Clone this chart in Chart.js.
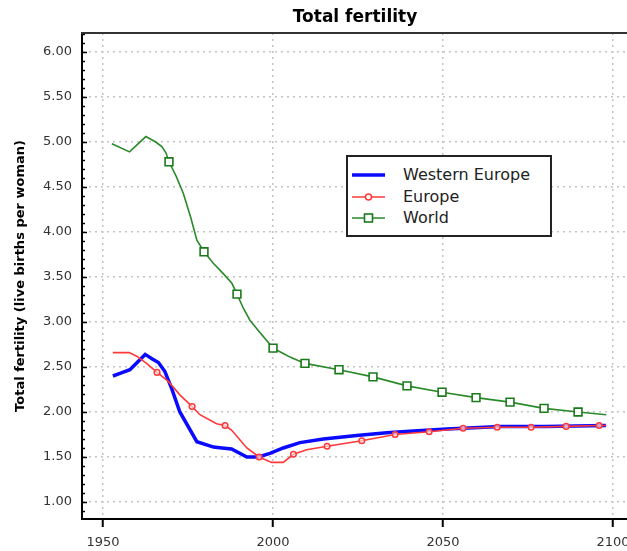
<!DOCTYPE html>
<html><head><meta charset="utf-8">
<script src="https://cdn.jsdelivr.net/npm/chart.js@4/dist/chart.umd.min.js"></script>
<style>
html,body{margin:0;padding:0;background:#fff;overflow:hidden;}
#wrap{position:relative;width:627px;height:551px;overflow:hidden;}
#c{position:absolute;left:0;top:0;}
#legend{position:absolute;left:346px;top:155px;width:202px;height:78px;border:2px solid #222;background:#fff;font-family:'DejaVu Sans',sans-serif;font-size:16px;color:#222;}
.item{position:absolute;left:0;width:202px;height:20px;line-height:20px;white-space:nowrap;}
.item svg{position:absolute;left:0;top:0;}
.item span{position:absolute;left:55px;top:0;}
</style></head>
<body>
<div id="wrap">
<canvas id="c" width="710" height="551"></canvas>
<div id="legend"></div>
</div>
<script>
// ---- data ----
const chartTitle = 'Total fertility';
const yAxisTitle = 'Total fertility (live births per woman)';
const seriesNames = ['Western Europe', 'Europe', 'World'];

const westernEuropeYears  = [1952.9,1955,1957.9,1962.4,1964.5,1966.3,1968.2,1970.2,1972.6,1977.6,1982.5,1985,1987.8,1992.3,1995.7,1999.1,2003,2007.9,2014.8,2024.6,2033.4,2041.3,2051.1,2066.8,2080,2097.9];
const westernEuropeValues = [2.40,2.43,2.47,2.64,2.59,2.55,2.45,2.26,2.00,1.67,1.61,1.60,1.59,1.50,1.50,1.54,1.60,1.66,1.70,1.74,1.77,1.79,1.81,1.84,1.84,1.85];

const europeYears  = [1952.9,1957.7,1959.9,1962.8,1965.9,1969.2,1972.6,1976.2,1978.5,1983.4,1985.9,1987.8,1992.3,1995.9,1999.6,2003,2006,2009.9,2015.9,2026.1,2035.9,2045.9,2055.9,2065.9,2075.9,2086.2,2095.9,2098];
const europeValues = [2.66,2.66,2.62,2.54,2.44,2.34,2.19,2.06,1.97,1.87,1.85,1.80,1.60,1.50,1.44,1.44,1.53,1.58,1.62,1.68,1.75,1.78,1.82,1.83,1.83,1.84,1.85,1.85];
const europeMarkerYears  = [1965.9,1976.2,1985.9,1995.9,2006,2015.9,2026.1,2035.9,2045.9,2055.9,2065.9,2075.9,2086.2,2095.9];
const europeMarkerValues = [2.44,2.06,1.85,1.50,1.53,1.62,1.68,1.75,1.78,1.82,1.83,1.83,1.84,1.85];

const worldYears  = [1952.6,1957.8,1962.6,1965.5,1967.3,1968.5,1969.4,1971.5,1973.6,1975.8,1977.6,1979.7,1982.5,1985.3,1987.9,1989.4,1991.3,1993.2,1996.2,2000,2003,2005,2009.4,2019.4,2029.4,2039.4,2049.7,2059.7,2069.7,2079.7,2089.7,2098];
const worldValues = [4.98,4.89,5.06,5.00,4.95,4.88,4.78,4.62,4.43,4.16,3.91,3.78,3.65,3.54,3.43,3.31,3.15,3.02,2.88,2.71,2.65,2.61,2.54,2.47,2.39,2.29,2.22,2.16,2.11,2.04,2.00,1.97];
const worldMarkerYears  = [1969.4,1979.7,1989.4,2000,2009.4,2019.4,2029.4,2039.4,2049.7,2059.7,2069.7,2079.7,2089.7];
const worldMarkerValues = [4.78,3.78,3.31,2.71,2.54,2.47,2.39,2.29,2.22,2.16,2.11,2.04,2.00];

const xTickValues = [1950, 2000, 2050, 2100];
const yTickValues = [1.0, 1.5, 2.0, 2.5, 3.0, 3.5, 4.0, 4.5, 5.0, 5.5, 6.0];

// ---- styles ----
const FONT = "'DejaVu Sans', sans-serif";
const BLUE = '#0a0aff', RED = '#ff3838', GREEN = '#2a8a2a', GREEN_MK = '#1c7a1c';
const GRID = '#c4c4c4';

const pts = (xs, ys) => xs.map((x, i) => ({x: x, y: ys[i]}));

const framePlugin = {
  id: 'frame',
  afterDraw(chart) {
    const {ctx, chartArea: a, scales: {y}} = chart;
    ctx.save();
    ctx.strokeStyle = '#000';
    ctx.lineWidth = 1.5;
    for (let k = Math.ceil(y.min * 10); k <= Math.floor(y.max * 10); k++) {
      const py = Math.round(y.getPixelForValue(k / 10)) + 0.5;
      const len = (k % 5 === 0) ? 5 : 3;
      ctx.beginPath(); ctx.moveTo(a.left, py); ctx.lineTo(a.left + len, py); ctx.stroke();
    }
    ctx.strokeStyle = '#333';
    ctx.lineWidth = 2;
    ctx.beginPath(); ctx.moveTo(a.left - 1, a.top); ctx.lineTo(a.right, a.top); ctx.stroke();
    ctx.restore();
  }
};

new Chart(document.getElementById('c'), {
  type: 'line',
  data: {
    datasets: [
      {label: seriesNames[1] + ' markers', data: pts(europeMarkerYears, europeMarkerValues), showLine: false,
       pointStyle: 'circle', pointRadius: 2.8, pointBorderWidth: 1.5, borderColor: RED, backgroundColor: 'rgba(255,255,255,0.6)', order: 0},
      {label: seriesNames[2] + ' markers', data: pts(worldMarkerYears, worldMarkerValues), showLine: false,
       pointStyle: 'rect', pointRadius: 5.5, pointBorderWidth: 1.6, borderColor: GREEN_MK, backgroundColor: '#ffffff', order: 0},
      {label: seriesNames[1], data: pts(europeYears, europeValues), borderColor: RED, borderWidth: 1.6,
       pointRadius: 0, tension: 0, fill: false, order: 1},
      {label: seriesNames[0], data: pts(westernEuropeYears, westernEuropeValues), borderColor: BLUE, borderWidth: 3.5,
       pointRadius: 0, tension: 0, fill: false, order: 2},
      {label: seriesNames[2], data: pts(worldYears, worldValues), borderColor: GREEN, borderWidth: 1.6,
       pointRadius: 0, tension: 0, fill: false, order: 3}
    ]
  },
  options: {
    responsive: false,
    devicePixelRatio: 1,
    animation: false,
    layout: {padding: 0, autoPadding: false},
    plugins: {
      legend: {display: false},
      tooltip: {enabled: false},
      title: {display: true, text: chartTitle, color: '#000',
              font: {family: FONT, size: 17, weight: 'bold', lineHeight: 1},
              padding: {top: 9, bottom: 7}}
    },
    scales: {
      x: {
        type: 'linear', min: 1943.82, max: 2128.5,
        afterBuildTicks: s => { s.ticks = xTickValues.map(v => ({value: v})); },
        afterFit: s => { s.height = 32; s.paddingLeft = 0; s.paddingRight = 0; },
        ticks: {callback: v => String(v), color: '#333', font: {family: FONT, size: 13}, padding: 8, maxRotation: 0, autoSkip: false},
        grid: {color: GRID, lineWidth: 1.5, drawTicks: true, tickLength: 8, tickWidth: 2, tickColor: '#000', tickBorderDash: []},
        border: {display: true, color: '#000', width: 2, dash: [2, 4]}
      },
      y: {
        type: 'linear', min: 0.811, max: 6.211,
        afterBuildTicks: s => { s.ticks = yTickValues.map(v => ({value: v})); },
        afterFit: s => { s.width = 82; s.paddingTop = 0; s.paddingBottom = 0; },
        ticks: {callback: v => Number(v).toFixed(2), color: '#333', font: {family: FONT, size: 13}, padding: 10},
        grid: {color: GRID, lineWidth: 1.5, drawTicks: false},
        border: {display: true, color: '#000', width: 2, dash: [2, 4]},
        title: {display: true, text: yAxisTitle, color: '#000', font: {family: FONT, size: 13, weight: 'bold'}, padding: {top: 13, bottom: 0}}
      }
    }
  },
  plugins: [framePlugin]
});

// ---- legend (HTML, real text) ----
const legendStyles = [
  {color: BLUE, width: 3.5, marker: null},
  {color: RED, width: 1.6, marker: 'circle'},
  {color: GREEN, width: 1.6, marker: 'rect'}
];
const legendTops = [8, 30, 51];
const legend = document.getElementById('legend');
seriesNames.forEach((name, i) => {
  const st = legendStyles[i];
  let mk = '';
  if (st.marker === 'circle') mk = '<circle cx="20.5" cy="10" r="3" fill="#fff" stroke="' + RED + '" stroke-width="1.5"/>';
  if (st.marker === 'rect') mk = '<rect x="16.5" y="6" width="8" height="8" fill="#fff" stroke="' + GREEN_MK + '" stroke-width="1.6"/>';
  const div = document.createElement('div');
  div.className = 'item';
  div.style.top = legendTops[i] + 'px';
  div.innerHTML = '<svg width="44" height="20"><line x1="4" y1="10" x2="37" y2="10" stroke="' + st.color + '" stroke-width="' + st.width + '"/>' + mk + '</svg><span>' + name + '</span>';
  legend.appendChild(div);
});
</script>
</body></html>
